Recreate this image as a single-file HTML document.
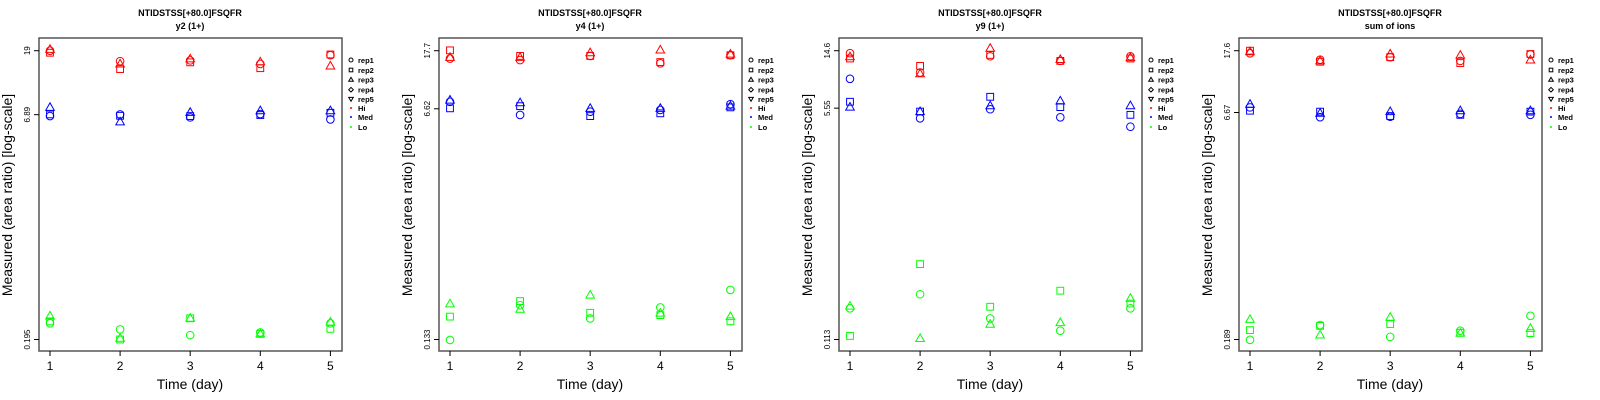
<!DOCTYPE html>
<html><head><meta charset="utf-8"><style>
html,body{margin:0;padding:0;background:#fff;}
svg{display:block;font-family:"Liberation Sans",sans-serif;}
</style></head><body>
<svg id="chart" width="1600" height="400" viewBox="0 0 1600 400" xmlns="http://www.w3.org/2000/svg"></svg>
<script>
const days = [1, 2, 3, 4, 5];
const panelTitles = ["y2 (1+)", "y4 (1+)", "y9 (1+)", "sum of ions"];
const mainTitle = "NTIDSTSS[+80.0]FSQFR";
const yTop = [19, 17.7, 14.6, 17.6];
const yMid = [6.89, 6.62, 5.55, 6.67];
const yBot = [0.195, 0.133, 0.113, 0.189];
const levels = ["Hi", "Med", "Lo"];
const levelColors = ["#ff0000", "#0000ff", "#00ff00"];
const reps = ["rep1", "rep2", "rep3"];
// values[panel][level][rep][day]
const p1Hi = [[19.0,16.1,16.3,15.4,17.7],[18.4,14.2,15.8,14.4,17.9],[19.4,15.4,16.7,15.9,14.9]];
const p1Med = [[6.74,6.92,6.6,6.96,6.39],[6.92,6.77,6.74,6.85,7.1],[7.73,6.15,7.14,7.33,7.33]];
const p1Lo = [[0.252,0.229,0.209,0.218,0.252],[0.26,0.195,0.273,0.213,0.231],[0.283,0.199,0.273,0.213,0.257]];
const p2Hi = [[15.5,15.1,16.2,14.3,16.4],[17.8,16.2,16.2,14.6,16.4],[15.8,15.8,17.1,17.9,16.7]];
const p2Med = [[7.45,5.96,6.3,6.49,7.15],[6.67,6.92,5.85,6.13,6.78],[7.67,7.33,6.67,6.67,6.92]];
const p2Lo = [[0.132,0.238,0.19,0.229,0.308],[0.196,0.255,0.209,0.201,0.181],[0.243,0.222,0.282,0.208,0.196]];
const p3Hi = [[14.0,10.1,13.3,12.3,13.3],[12.8,11.3,13.6,12.3,12.8],[13.2,9.9,15.2,12.6,13.0]];
const p3Med = [[9.1,4.68,5.45,4.76,4.06],[6.18,5.24,6.72,5.65,4.96],[5.65,5.24,5.78,6.26,5.78]];
const p3Lo = [[0.191,0.242,0.161,0.131,0.191],[0.120,0.402,0.196,0.257,0.207],[0.198,0.115,0.146,0.150,0.226]];
const p4Hi = [[16.9,15.3,15.9,15.0,16.6],[17.6,14.8,15.9,14.5,16.7],[17.3,15.0,16.7,16.4,15.2]];
const p4Med = [[7.23,6.2,6.24,6.53,6.43],[6.86,6.76,6.31,6.43,6.76],[7.6,6.59,6.76,6.86,6.86]];
const p4Lo = [[0.188,0.237,0.197,0.217,0.274],[0.219,0.234,0.241,0.21,0.209],[0.259,0.203,0.268,0.209,0.225]];
const values = [[p1Hi,p1Med,p1Lo],[p2Hi,p2Med,p2Lo],[p3Hi,p3Med,p3Lo],[p4Hi,p4Med,p4Lo]];

const NS = "http://www.w3.org/2000/svg";
const svg = document.getElementById("chart");
function mk(tag, attrs, parent) {
  const e = document.createElementNS(NS, tag);
  for (const k in attrs) e.setAttribute(k, attrs[k]);
  (parent || svg).appendChild(e);
  return e;
}
const boxL = 39, boxR = 342, boxT = 38, boxB = 351, yTopPx = 50.7, yBotPx = 339.5;

for (let p = 0; p < 4; p++) {
  const g = mk("g", {transform: "translate(" + (p * 400) + ",0)"});
  
  
  const lt = Math.log(yTop[p]), lb = Math.log(yBot[p]);
  const ys = v => yBotPx - (Math.log(v) - lb) / (lt - lb) * (yBotPx - yTopPx);
  const xs = d => 50 + (d - 1) * 70.1;

  let t = mk("text", {x: 190, y: 16, "text-anchor": "middle", "font-size": 9, "font-weight": "bold"}, g);
  t.textContent = mainTitle;
  
  
  t = mk("text", {x: 190, y: 29, "text-anchor": "middle", "font-size": 9, "font-weight": "bold"}, g);
  t.textContent = panelTitles[p];
  
  

  const box = mk("rect", {x: boxL, y: boxT, width: boxR - boxL, height: boxB - boxT, fill: "none", stroke: "#555", "stroke-width": 1.5}, g);
  
  

  [yTop[p], yMid[p], yBot[p]].forEach(v => {
    const y = ys(v);
    mk("line", {x1: 34, x2: boxL, y1: y, y2: y, stroke: "#000", "stroke-width": 1}, g);
    const tl = mk("text", {x: 0, y: 0, transform: "translate(30," + y + ") rotate(-90)", "text-anchor": "middle", "font-size": 8}, g);
    tl.textContent = String(v);
    
    
  });
  days.forEach(d => {
    mk("line", {x1: xs(d), x2: xs(d), y1: boxB, y2: boxB + 5, stroke: "#000", "stroke-width": 1}, g);
    const tl = mk("text", {x: xs(d), y: 370, "text-anchor": "middle", "font-size": 12}, g);
    tl.textContent = String(d);
    
    
  });
  t = mk("text", {x: 190, y: 389, "text-anchor": "middle", "font-size": 14}, g);
  t.textContent = "Time (day)";
  
  
  t = mk("text", {x: 0, y: 0, transform: "translate(12,195) rotate(-90)", "text-anchor": "middle", "font-size": 14}, g);
  t.textContent = "Measured (area ratio) [log-scale]";
  
  

  for (let l = 0; l < 3; l++) {
    for (let r = 0; r < 3; r++) {
      days.forEach((d, i) => {
        const v = values[p][l][r][i];
        const x = xs(d), y = ys(v), c = levelColors[l];
        let m;
        if (r === 0) m = mk("circle", {cx: x, cy: y, r: 3.8, fill: "none", stroke: c, "stroke-width": 1}, g);
        else if (r === 1) m = mk("rect", {x: x - 3.4, y: y - 3.4, width: 6.8, height: 6.8, fill: "none", stroke: c, "stroke-width": 1}, g);
        else m = mk("polygon", {points: (x - 4.3) + "," + (y + 3) + " " + (x + 4.3) + "," + (y + 3) + " " + x + "," + (y - 4.6), fill: "none", stroke: c, "stroke-width": 1}, g);
        
        
      });
    }
  }

  // legend
  const legY = [60, 70, 79.7, 89.7, 99, 108, 117, 127];
  const legLabels = ["rep1", "rep2", "rep3", "rep4", "rep5", "Hi", "Med", "Lo"];
  legLabels.forEach((lab, i) => {
    const y = legY[i], x = 351;
    let s;
    if (i === 0) s = mk("circle", {cx: x, cy: y, r: 2, fill: "none", stroke: "#000", "stroke-width": 1}, g);
    else if (i === 1) s = mk("rect", {x: x - 1.8, y: y - 1.8, width: 3.6, height: 3.6, fill: "none", stroke: "#000", "stroke-width": 1}, g);
    else if (i === 2) s = mk("polygon", {points: (x - 2.3) + "," + (y + 1.6) + " " + (x + 2.3) + "," + (y + 1.6) + " " + x + "," + (y - 2.3), fill: "none", stroke: "#000", "stroke-width": 1}, g);
    else if (i === 3) s = mk("polygon", {points: (x - 2.3) + "," + y + " " + x + "," + (y - 2.3) + " " + (x + 2.3) + "," + y + " " + x + "," + (y + 2.3), fill: "none", stroke: "#000", "stroke-width": 1}, g);
    else if (i === 4) s = mk("polygon", {points: (x - 2.3) + "," + (y - 1.6) + " " + (x + 2.3) + "," + (y - 1.6) + " " + x + "," + (y + 2.3), fill: "none", stroke: "#000", "stroke-width": 1}, g);
    else s = mk("circle", {cx: x, cy: y, r: 1, fill: levelColors[i - 5]}, g);
    
    
    const lt2 = mk("text", {x: 358, y: y + 3, "font-size": 7.5, "font-weight": "bold"}, g);
    lt2.textContent = lab;
    
    
  });
}
</script>
</body></html>
